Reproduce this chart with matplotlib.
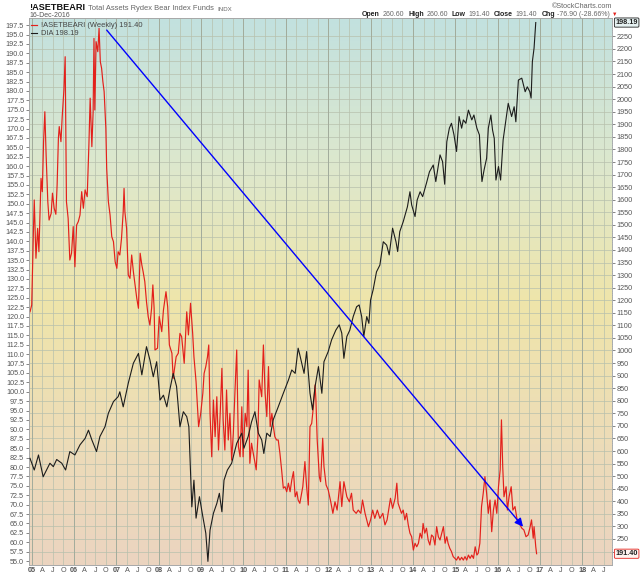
import numpy as np
import matplotlib.pyplot as plt
from matplotlib.colors import LinearSegmentedColormap

plt.rcParams['font.family'] = ['Liberation Sans', 'DejaVu Sans']

# DIA weekly (left scale)
dia_t = [2004.96, 2005.06, 2005.16, 2005.27, 2005.43, 2005.51, 2005.59, 2005.71, 2005.80, 2005.90,
         2006.02, 2006.14, 2006.26, 2006.34, 2006.42, 2006.53, 2006.61, 2006.73, 2006.81, 2006.93,
         2007.04, 2007.08, 2007.16, 2007.28, 2007.40, 2007.52, 2007.60, 2007.71, 2007.79, 2007.87,
         2007.95, 2008.03, 2008.11, 2008.19, 2008.26, 2008.34, 2008.42, 2008.50, 2008.58, 2008.66,
         2008.71, 2008.78, 2008.83, 2008.88, 2008.96, 2009.04, 2009.11, 2009.16, 2009.21, 2009.29,
         2009.37, 2009.43, 2009.49, 2009.54, 2009.62, 2009.72, 2009.84, 2009.96, 2010.01, 2010.11,
         2010.19, 2010.27, 2010.35, 2010.43, 2010.48, 2010.55, 2010.63, 2010.70, 2010.82, 2010.94,
         2011.06, 2011.14, 2011.22, 2011.29, 2011.33, 2011.43, 2011.49, 2011.57, 2011.63, 2011.69,
         2011.77, 2011.85, 2011.90, 2012.00, 2012.08, 2012.18, 2012.26, 2012.32, 2012.37, 2012.44,
         2012.51, 2012.59, 2012.67, 2012.73, 2012.79, 2012.84, 2012.91, 2012.96, 2013.00, 2013.06,
         2013.14, 2013.22, 2013.30, 2013.38, 2013.44, 2013.52, 2013.60, 2013.64, 2013.69, 2013.77,
         2013.87, 2013.93, 2013.97, 2014.05, 2014.10, 2014.17, 2014.23, 2014.32, 2014.39, 2014.48,
         2014.54, 2014.64, 2014.70, 2014.75, 2014.80, 2014.86, 2014.91, 2014.97, 2015.03, 2015.09,
         2015.15, 2015.19, 2015.25, 2015.31, 2015.39, 2015.44, 2015.51, 2015.57, 2015.60, 2015.63,
         2015.68, 2015.74, 2015.78, 2015.84, 2015.88, 2015.92, 2015.96, 2016.02, 2016.07, 2016.13,
         2016.20, 2016.25, 2016.33, 2016.39, 2016.43, 2016.49, 2016.57, 2016.65, 2016.70, 2016.76,
         2016.79, 2016.82, 2016.86, 2016.90]
dia_v = [82.3, 79.2, 83.2, 77.4, 81.0, 80.1, 82.0, 81.0, 79.2, 84.1,
         83.2, 85.9, 87.6, 89.8, 87.2, 84.1, 88.1, 90.7, 94.3, 97.4,
         98.7, 100.0, 96.0, 102.3, 107.6, 110.2, 104.5, 112.0, 108.5, 104.0,
         108.0, 97.8, 99.1, 96.0, 100.5, 104.9, 101.4, 90.7, 94.7, 93.4,
         90.7, 69.4, 76.5, 66.4, 72.1, 66.8, 62.4, 54.9, 63.2, 67.7,
         70.3, 73.0, 68.1, 76.5, 79.2, 81.0, 86.3, 89.0, 85.0, 88.1,
         92.0, 94.7, 89.0, 87.2, 83.6, 89.0, 88.1, 92.5, 96.0, 99.6,
         103.1, 105.8, 104.9, 111.6, 109.8, 104.9, 110.7, 99.6, 95.2, 101.4,
         106.7, 99.6, 108.0, 110.7, 113.8, 116.4, 117.8, 115.6, 108.9, 114.7,
         116.4, 120.0, 122.6, 123.1, 120.0, 114.7, 120.0, 118.2, 124.4, 127.1,
         131.9, 133.7, 139.9, 139.0, 136.4, 143.5, 139.9, 137.3, 142.6, 145.2,
         149.2, 153.2, 149.7, 146.6, 151.0, 153.2, 151.9, 155.5, 158.5, 160.3,
         155.9, 163.0, 161.2, 155.2, 166.5, 170.1, 171.4, 168.3, 163.9, 173.2,
         170.1, 172.3, 171.4, 174.9, 172.3, 173.6, 170.1, 168.3, 161.2, 155.9,
         159.0, 162.1, 170.1, 173.6, 169.6, 167.4, 156.3, 159.9, 156.3, 167.0,
         172.7, 176.7, 173.2, 175.8, 171.8, 182.9, 183.4, 179.8, 181.1, 179.8,
         178.1, 187.8, 191.4, 198.19]

# !ASETBEARI weekly (right scale)
bear_t = [2004.96, 2005.00, 2005.04, 2005.06, 2005.10, 2005.14, 2005.17, 2005.22, 2005.25, 2005.28,
          2005.31, 2005.34, 2005.38, 2005.41, 2005.46, 2005.49, 2005.53, 2005.57, 2005.60, 2005.63,
          2005.65, 2005.69, 2005.72, 2005.76, 2005.79, 2005.82, 2005.86, 2005.90, 2005.94, 2005.98,
          2006.02, 2006.06, 2006.10, 2006.14, 2006.18, 2006.22, 2006.26, 2006.31, 2006.35, 2006.38,
          2006.42, 2006.45, 2006.47, 2006.49, 2006.52, 2006.56, 2006.59, 2006.62, 2006.65, 2006.68,
          2006.71, 2006.75, 2006.77, 2006.81, 2006.85, 2006.89, 2006.93, 2006.97,
          2007.01, 2007.04, 2007.08, 2007.12, 2007.16, 2007.18, 2007.20, 2007.24, 2007.28, 2007.32,
          2007.36, 2007.40, 2007.44, 2007.48, 2007.52, 2007.56, 2007.60, 2007.63, 2007.67, 2007.71,
          2007.75, 2007.79, 2007.83, 2007.86, 2007.89, 2007.91, 2007.97,
          2008.01, 2008.07, 2008.11, 2008.17, 2008.21, 2008.25, 2008.31, 2008.34, 2008.41, 2008.46,
          2008.50, 2008.54, 2008.60, 2008.66, 2008.70, 2008.75, 2008.80, 2008.83, 2008.88, 2008.91,
          2008.94, 2008.99,
          2009.04, 2009.07, 2009.11, 2009.15, 2009.18, 2009.21, 2009.25, 2009.29, 2009.33, 2009.37,
          2009.41, 2009.45, 2009.49, 2009.52, 2009.56, 2009.60, 2009.64, 2009.68, 2009.72, 2009.76,
          2009.80, 2009.84, 2009.88, 2009.92, 2009.96, 2009.99,
          2010.04, 2010.08, 2010.11, 2010.15, 2010.19, 2010.23, 2010.26, 2010.30, 2010.34, 2010.37,
          2010.43, 2010.47, 2010.51, 2010.55, 2010.59, 2010.63, 2010.67, 2010.70, 2010.74, 2010.78,
          2010.82, 2010.86, 2010.90, 2010.94, 2010.98,
          2011.02, 2011.06, 2011.10, 2011.14, 2011.18, 2011.22, 2011.26, 2011.29, 2011.33, 2011.40,
          2011.45, 2011.49, 2011.53, 2011.57, 2011.61, 2011.65, 2011.69, 2011.71, 2011.74, 2011.79,
          2011.82, 2011.87, 2011.90, 2011.95,
          2012.00, 2012.06, 2012.11, 2012.16, 2012.21, 2012.28, 2012.32, 2012.37, 2012.44, 2012.50,
          2012.55, 2012.59, 2012.66, 2012.71, 2012.77, 2012.81, 2012.87, 2012.95,
          2013.00, 2013.05, 2013.10, 2013.16, 2013.22, 2013.29, 2013.34, 2013.39, 2013.44, 2013.47,
          2013.52, 2013.58, 2013.62, 2013.65, 2013.69, 2013.73, 2013.77, 2013.81, 2013.85, 2013.89,
          2013.93, 2013.97,
          2014.01, 2014.05, 2014.09, 2014.13, 2014.17, 2014.21, 2014.24, 2014.28, 2014.32, 2014.36,
          2014.40, 2014.44, 2014.48, 2014.52, 2014.56, 2014.60, 2014.64, 2014.68, 2014.72, 2014.76,
          2014.80, 2014.83, 2014.87, 2014.91, 2014.95, 2014.99,
          2015.03, 2015.07, 2015.11, 2015.15, 2015.19, 2015.23, 2015.27, 2015.31, 2015.35, 2015.39,
          2015.43, 2015.47, 2015.51, 2015.54, 2015.58, 2015.62, 2015.66, 2015.70, 2015.74, 2015.78,
          2015.82, 2015.86, 2015.90, 2015.94, 2015.98,
          2016.02, 2016.06, 2016.09, 2016.12, 2016.15, 2016.20, 2016.23, 2016.27, 2016.32, 2016.36,
          2016.41, 2016.46, 2016.51, 2016.57, 2016.62, 2016.67, 2016.72, 2016.76, 2016.80, 2016.84,
          2016.86, 2016.90, 2016.92]
bear_v = [1154, 1181, 1473, 1599, 1367, 1486, 1393, 1685, 1632, 1831,
          1950, 1778, 1592, 1519, 1546, 1626, 1566, 1542, 1659, 1844,
          1891, 1831, 1930, 2037, 2169, 1592, 1526, 1360, 1387, 1493,
          1333, 1499, 1513, 1539, 1632, 1566, 1639, 1612, 1818, 2004,
          1811, 1950, 2242, 1957, 2229, 2189, 2282, 2149, 2123, 2070,
          2030, 1884, 1725, 1592, 1539, 1453, 1433, 1353,
          1327, 1393, 1380, 1446, 1552, 1645, 1552, 1486, 1300, 1287,
          1380, 1314, 1261, 1208, 1168, 1387, 1340, 1314, 1274, 1194,
          1135, 1101, 1168, 1261, 1168, 1002, 1009,
          1135, 1075, 1161, 1234, 1174, 1022, 989, 889, 975, 989,
          1068, 1055, 949, 1154, 1062, 1188, 1068, 975, 876, 790,
          697, 750,
          830, 909, 936, 975, 1022, 750, 577, 803, 657, 816,
          604, 750, 929, 724, 604, 843, 644, 750, 564, 671,
          843, 1002, 617, 577, 776, 577,
          750, 697, 922, 551, 631, 591, 564, 525, 657, 883,
          816, 1022, 830, 737, 936, 697, 750, 704, 657, 644,
          644, 591, 525, 452, 458,
          438, 472, 438, 485, 518, 418, 438, 405, 392, 458,
          558, 458, 385, 697, 710, 776, 863, 803, 644, 498,
          478, 651, 538, 465,
          445, 398, 352, 398, 365, 478, 379, 478, 418, 398,
          432, 365, 352, 365, 352, 405, 352, 299,
          326, 365, 332, 365, 332, 352, 306, 326, 379, 412,
          372, 412, 472, 392, 372, 352, 365, 326, 352, 306,
          273, 259,
          206, 233, 219, 233, 273, 253, 312, 273, 293, 246,
          226, 266, 259, 226, 299, 259, 246, 273, 299, 233,
          259, 233, 213, 200, 180, 173,
          166, 180, 166, 177, 166, 180, 166, 186, 173, 186,
          173, 219, 186, 193, 233, 379, 432, 498, 432, 352,
          405, 279, 365, 405, 352,
          458, 525, 724, 538, 418, 458, 365, 418, 458, 365,
          379, 326, 312, 293, 286, 259, 266, 293, 326, 253,
          299, 219, 191.4]

# trend arrow drawn on the chart (right scale)
trend_t = [2006.77, 2016.60]
trend_v = [2275, 299]

years = list(range(2005, 2019))
left_ticks = np.arange(55, 197.6, 2.5)
right_ticks = np.arange(200, 2300, 50)

W, H = 640, 576
fig = plt.figure(figsize=(W / 100, H / 100), dpi=100)
ax = fig.add_axes([29 / W, 11 / H, 583 / W, 547 / H])

# background gradient
bg = LinearSegmentedColormap.from_list(
    'sc', [(0, '#ebd4c0'), (0.22, '#eddcb8'), (0.48, '#efe5aa'), (0.72, '#dee8cc'), (1, '#c2e1df')])
ax.imshow(np.linspace(0, 1, 256).reshape(-1, 1), cmap=bg, origin='lower', aspect='auto',
          extent=[0, 1, 0, 1], transform=ax.transAxes, zorder=0)

quarters, qlabels = [], []
for y in years:
    for q, s in zip((0, 0.25, 0.5, 0.75), (None, 'A', 'J', 'O')):
        if y + q < 2018.7:
            quarters.append(y + q)
            qlabels.append('%02d' % (y % 100) if s is None else s)

ax.set_xticks(quarters)
ax.set_xticklabels(qlabels)
for lab, q in zip(ax.get_xticklabels(), quarters):
    if q == int(q):
        lab.set_fontweight('bold')
        lab.set_color('#111111')
ax.set_yticks(right_ticks)
# the 200 label sits under the last-value tag
ax.set_yticklabels(['' if v == 200 else '%d' % v for v in right_ticks])
ax.set_axisbelow(True)
ax.grid(color='#b7c0ad', lw=0.5)
for y in years:
    ax.axvline(y, color='#a2ac9c', lw=0.7, zorder=0.6)

red_line, = ax.plot(bear_t, bear_v, color='#e3201b', lw=0.85, zorder=3)
ax.set_xlim(2004.936, 2018.70)
ax.set_ylim(146.5, 2323)
ax.tick_params(axis='both', labelsize=5.2, colors='#555555', length=2, width=0.5, pad=1.5)
ax.tick_params(axis='x', length=0, pad=1.2)

axk = ax.twinx()
blk_line, = axk.plot(dia_t, dia_v, color='#1c1c1c', lw=0.8, zorder=3)
axk.set_ylim(53.94, 199.4)
axk.set_yticks(left_ticks)
axk.set_yticklabels(['%.1f' % v for v in left_ticks])
axk.yaxis.tick_left()
ax.yaxis.tick_right()
axk.tick_params(axis='y', labelsize=5.2, colors='#555555', length=2, width=0.5, pad=1.5)
ax.tick_params(axis='y', labelright=True, labelleft=False)

for a in (ax, axk):
    for sp in a.spines.values():
        sp.set_color('#a8a8a8')
        sp.set_linewidth(0.6)
ax.spines['right'].set_color('#8fb3c8')
ax.spines['right'].set_linestyle(':')

axk.annotate('', xy=(trend_t[1], trend_v[1]), xytext=(trend_t[0], trend_v[0]),
             xycoords=ax.transData, textcoords=ax.transData,
             arrowprops=dict(arrowstyle='-|>', color='#0000ff', lw=1.0, mutation_scale=12,
                             shrinkA=0, shrinkB=0), zorder=5)

leg = axk.legend([red_line, blk_line], ['!ASETBEARI (Weekly) 191.40', 'DIA 198.19'],
                 loc='upper left', bbox_to_anchor=(0.0, 0.997), frameon=False, fontsize=5.4,
                 handlelength=0.8, handletextpad=0.5, labelspacing=0.1, borderaxespad=0.2,
                 borderpad=0.1)
for t in leg.get_texts():
    t.set_color('#444444')

# last-value tags on the right edge
ax.annotate('191.40', xy=(1, bear_v[-1]), xycoords=('axes fraction', 'data'),
            xytext=(2.5, 0), textcoords='offset points', va='center', ha='left',
            fontsize=5.2, fontweight='bold', color='#222222', annotation_clip=False,
            bbox=dict(boxstyle='round,pad=0.15', fc='#fff4f0', ec='#e3201b', lw=0.6))
axk.annotate('198.19', xy=(1, dia_v[-1]), xycoords=('axes fraction', 'data'),
             xytext=(2.5, 0), textcoords='offset points', va='center', ha='left',
             fontsize=5.2, fontweight='bold', color='#222222', annotation_clip=False,
             bbox=dict(boxstyle='round,pad=0.15', fc='#e6f2f2', ec='#222222', lw=0.6))

# header
title = fig.text(29 / W, 1 - 10 / H, '!ASETBEARI', fontsize=6.6, fontweight='bold',
                 color='#111111', va='baseline')
sub = plt.annotate('Total Assets Rydex Bear Index Funds', xy=(1, 0), xycoords=title,
                   xytext=(2.5, 0), textcoords='offset points', fontsize=5.4, color='#666666',
                   va='bottom', annotation_clip=False)
plt.annotate('INDX', xy=(1, 0), xycoords=sub, xytext=(2, 0), textcoords='offset points',
             fontsize=4.4, color='#666666', va='bottom', annotation_clip=False)
fig.text(29 / W, 1 - 17 / H, '16-Dec-2016', fontsize=5.0, color='#555555', va='baseline')
fig.text(612 / W, 1 - 8 / H, '©StockCharts.com', fontsize=5.2, color='#666666', ha='right',
         va='baseline')

pieces = [('Open', True), ('260.60', False), ('High', True), ('260.60', False),
          ('Low', True), ('191.40', False), ('Close', True), ('191.40', False),
          ('Chg', True), ('-76.90 (-28.66%)', False)]
prev = fig.text(362 / W, 1 - 16 / H, pieces[0][0], fontsize=5.0, fontweight='bold',
                color='#222222', va='baseline')
for s, b in pieces[1:]:
    gap = 3 if b else 1.8
    prev = plt.annotate(s, xy=(1, 0), xycoords=prev, xytext=(gap, 0), textcoords='offset points',
                        fontsize=5.0, fontweight='bold' if b else 'normal',
                        color='#222222' if b else '#666666', va='bottom', annotation_clip=False)
plt.annotate('▼', xy=(1, 0), xycoords=prev, xytext=(1.5, 0.5), textcoords='offset points',
             fontsize=4, color='#e3201b', va='bottom', annotation_clip=False)

fig.savefig('out.png', dpi=100)
